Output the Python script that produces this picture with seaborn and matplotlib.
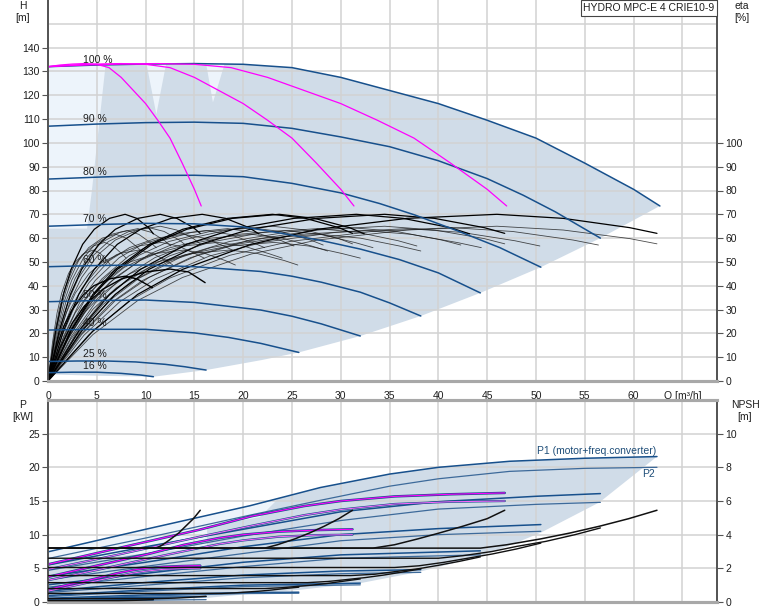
import numpy as np
import matplotlib
matplotlib.use("Agg")
import matplotlib.pyplot as plt
import seaborn as sns
from matplotlib.patches import Rectangle

sns.set_theme(style="white")
plt.rcParams['font.family'] = ['Liberation Sans', 'DejaVu Sans']

# ---------------- data: head curves (4 pumps, speed %) ----------------
H100_Q = [0, 5, 10, 15, 20, 25, 30, 35, 40, 45, 50, 55, 60, 62.7]
H100_H = [132.0, 132.7, 133.1, 133.3, 133.0, 131.6, 127.5, 122.0, 116.5, 109.5, 102.0, 91.5, 80.5, 73.5]
H90_Q = [0, 5, 10, 15, 20, 25, 30, 35, 40, 45, 48.7, 52, 56.6]
H90_H = [107.0, 107.9, 108.5, 108.7, 108.2, 106.1, 102.5, 98.4, 92.5, 85.0, 78.0, 71.0, 60.0]
H80_Q = [0, 5, 10, 15, 20, 25, 30, 34, 37.6, 42, 46.3, 50.5]
H80_H = [84.8, 85.6, 86.3, 86.4, 85.8, 83.0, 79.0, 74.5, 69.7, 63.0, 56.0, 47.8]
H70_Q = [0, 5, 10, 15, 20, 24, 28, 32, 36, 40, 44.3]
H70_H = [65.0, 65.7, 66.2, 66.0, 64.7, 62.0, 59.0, 55.4, 51.0, 45.4, 37.0]
H60_Q = [0, 5, 10, 15, 21.8, 25, 28, 32, 35, 38.2]
H60_H = [48.0, 48.5, 48.7, 48.0, 46.0, 44.0, 41.5, 37.3, 32.8, 27.3]
H50_Q = [0, 5, 10, 15, 21.8, 25, 28, 32]
H50_H = [33.3, 33.8, 34.0, 33.0, 29.8, 27.2, 24.0, 18.9]
H40_Q = [0, 5, 10, 15, 18.5, 21.8, 25.7]
H40_H = [21.4, 21.7, 21.7, 20.2, 18.3, 15.8, 12.0]
H25_Q = [0, 3, 6, 9, 12, 14, 16.2]
H25_H = [8.2, 8.4, 8.4, 8.0, 7.0, 6.0, 4.6]
H16_Q = [0, 2.5, 5, 7.5, 9.5, 10.8]
H16_H = [3.5, 3.7, 3.7, 3.2, 2.5, 1.8]
SPEED_LABELS = ['100 %', '90 %', '80 %', '70 %', '60 %', '50 %', '40 %', '25 %', '16 %']

# magenta: 1, 2, 3 pumps at full speed
MAG_H = [132.0, 132.7, 133.1, 133.3, 133.0, 131.6, 127.5, 122.0, 116.5, 109.5, 102.0, 91.5, 80.5, 73.5]
MAG1_Q = [0, 1.25, 2.5, 3.75, 5, 6.25, 7.5, 8.75, 10, 11.25, 12.5, 13.75, 15, 15.7]
MAG2_Q = [0, 2.5, 5, 7.5, 10, 12.5, 15, 17.5, 20, 22.5, 25, 27.5, 30, 31.35]
MAG3_Q = [0, 3.75, 7.5, 11.25, 15, 18.75, 22.5, 26.25, 30, 33.75, 37.5, 41.25, 45, 47.0]

# operating area (top)
ENV_LOW_Q = [62.7, 56.6, 50.5, 44.3, 38.2, 32.0, 25.7, 21.9, 16.2, 10.8, 5.0, 0]
ENV_LOW_H = [73.5, 60.0, 47.8, 37.0, 27.3, 18.9, 12.0, 8.8, 4.6, 1.8, 2.2, 2.8]
LIGHT1_Q = [0, 5.9, 4.5, 4.0, 0]
LIGHT1_H = [131.7, 132.7, 80, 64, 64]
LIGHT2_Q = [10.1, 12.1, 11.1]
LIGHT2_H = [133.1, 133.1, 112]
LIGHT3_Q = [16.2, 18.1, 16.9]
LIGHT3_H = [133.3, 133.2, 117]

# efficiency curves, per pump (flow of one pump); drawn for 1..4 running pumps
PUMP_COUNTS = [1, 2, 3, 4]
ETA_T100_Q = [0, 1.15, 2.3, 3.45, 5.2, 6.9, 9.2, 11.5, 13.2, 14.9, 15.6]
ETA_T100 = [0, 19.5, 33.8, 43.5, 53.3, 59.2, 63.4, 65.0, 63.4, 59.8, 57.6]
ETA_T90_Q = [0, 1.04, 2.07, 3.1, 4.66, 6.2, 8.3, 10.35, 11.9, 13.45, 14.1]
ETA_T90 = [0, 19.3, 33.5, 43.1, 52.8, 58.6, 62.8, 64.4, 62.8, 59.2, 57.1]
ETA_T80_Q = [0, 0.92, 1.84, 2.76, 4.14, 5.5, 7.36, 9.2, 10.6, 11.96, 12.6]
ETA_T80 = [0, 19.2, 33.3, 42.9, 52.5, 58.2, 62.4, 64.0, 62.4, 58.9, 56.7]
ETA_T70_Q = [0, 0.81, 1.62, 2.43, 3.65, 4.86, 6.5, 8.1, 9.3, 10.5, 11.1]
ETA_T70 = [0, 19.0, 32.9, 42.3, 51.8, 57.5, 61.6, 63.2, 61.6, 58.1, 56.0]
ETA_T60_Q = [0, 0.7, 1.4, 2.1, 3.13, 4.17, 5.56, 6.95, 8.0, 9.0, 9.55]
ETA_T60 = [0, 18.5, 32.0, 41.3, 50.5, 56.0, 60.0, 61.6, 60.0, 56.7, 54.6]
ETA_T50_Q = [0, 0.58, 1.16, 1.74, 2.6, 3.5, 4.64, 5.8, 6.67, 7.54, 8.0]
ETA_T50 = [0, 17.5, 30.3, 39.0, 47.7, 53.0, 56.7, 58.2, 56.7, 53.5, 51.6]
ETA_T40_Q = [0, 0.47, 0.93, 1.4, 2.1, 2.8, 3.72, 4.65, 5.35, 6.05, 6.4]
ETA_T40 = [0, 16.5, 28.6, 36.9, 45.1, 50.0, 53.6, 55.0, 53.6, 50.6, 48.7]
ETA_P100_Q = [0, 1.15, 2.3, 3.45, 5.2, 6.9, 9.2, 11.5, 13.2, 14.9, 15.6]
ETA_P100 = [0, 21.0, 36.4, 46.9, 57.4, 63.7, 68.3, 70.0, 68.3, 64.4, 62.0]
ETA_P70_Q = [0, 0.79, 1.58, 2.37, 3.55, 4.74, 6.3, 7.9, 9.1, 10.3, 10.8]
ETA_P70 = [0, 21.0, 36.4, 46.9, 57.4, 63.7, 68.3, 70.0, 68.3, 64.4, 61.8]
ETA_X1_Q = [0, 0.8, 1.6, 2.4, 3.6, 4.7, 6.3, 7.9, 9.1, 10.7]
ETA_X1 = [0, 13.2, 22.9, 29.5, 36.1, 40.0, 42.9, 44.0, 42.9, 39.2]
ETA_X2_Q = [0, 1.25, 2.5, 3.75, 5.6, 7.5, 10.0, 12.5, 14.4, 16.1]
ETA_X2 = [0, 14.1, 24.4, 31.5, 38.5, 42.8, 45.8, 47.0, 45.8, 41.3]

# ---------------- data: power (kW), 4 pumps at each speed ----------------
P100_Q = [0, 10, 20.7, 27.9, 35, 40, 47.3, 55, 62.4]
P1_100 = [7.45, 10.8, 14.3, 17.0, 19.0, 20.0, 20.9, 21.35, 21.6]
P2_100 = [6.45, 9.5, 12.9, 15.1, 17.2, 18.3, 19.4, 19.85, 20.0]
P90_Q = [0, 10, 20, 30, 40, 50, 56.6]
P1_90 = [5.5, 8.2, 10.8, 13.4, 14.9, 15.7, 16.1]
P2_90 = [4.7, 7.15, 9.8, 12.1, 13.8, 14.5, 14.8]
P80_Q = [0, 10, 20, 30, 40, 50.5]
P1_80 = [3.8, 5.9, 8.2, 10.0, 10.9, 11.5]
P2_80 = [3.3, 5.3, 7.2, 9.1, 10.0, 10.5]
P70_Q = [0, 10, 20, 30, 44.3]
P1_70 = [2.55, 4.25, 5.9, 7.0, 7.6]
P2_70 = [2.2, 3.8, 5.25, 6.5, 7.0]
P60_Q = [0, 10, 20, 30, 38.2]
P1_60 = [1.6, 2.9, 4.0, 4.6, 4.8]
P2_60 = [1.4, 2.5, 3.6, 4.2, 4.4]
P50_Q = [0, 10, 20, 32]
P1_50 = [0.95, 1.8, 2.5, 2.8]
P2_50 = [0.8, 1.6, 2.3, 2.55]
P40_Q = [0, 10, 20, 25.7]
P1_40 = [0.55, 1.05, 1.4, 1.45]
P2_40 = [0.42, 0.9, 1.25, 1.3]
P25_Q = [0, 8, 16.2]
P1_25 = [0.45, 0.65, 0.8]
P2_25 = [0.15, 0.25, 0.35]
P16_Q = [0, 5, 10.8]
P1_16 = [0.25, 0.3, 0.35]
P2_16 = [0.05, 0.08, 0.1]

# power of 1, 2, 3 pumps at full speed (magenta)
PM1_Q = [0, 2.5, 5.2, 7.0, 8.75, 10, 11.8, 13.75, 15.6]
PM1_P1 = [1.86, 2.7, 3.58, 4.25, 4.75, 5.0, 5.23, 5.34, 5.4]
PM1_P2 = [1.61, 2.38, 3.23, 3.78, 4.3, 4.58, 4.85, 4.96, 5.0]
PM2_Q = [0, 5, 10.35, 13.95, 17.5, 20, 23.65, 27.5, 31.2]
PM2_P1 = [3.73, 5.4, 7.15, 8.5, 9.5, 10.0, 10.45, 10.68, 10.8]
PM2_P2 = [3.23, 4.75, 6.45, 7.55, 8.6, 9.15, 9.7, 9.93, 10.0]
PM3_Q = [0, 7.5, 15.5, 20.9, 26.25, 30, 35.5, 41.25, 46.8]
PM3_P1 = [5.59, 8.1, 10.73, 12.75, 14.25, 15.0, 15.68, 16.0, 16.2]
PM3_P2 = [4.84, 7.13, 9.68, 11.33, 12.9, 13.73, 14.55, 14.89, 15.0]

# power area
PF_LOW_Q = [62.4, 56.5, 50.5, 47.3, 44.3, 38.1, 32.0, 25.7, 20.7, 16.2, 10.8, 0]
PF_LOW_P = [21.6, 14.8, 10.3, 8.4, 6.8, 4.5, 2.8, 1.8, 1.2, 0.6, 0.3, 0.2]
PL_Q = [0, 10, 20.7, 23.5, 21.7, 16.3, 16.3, 0]
PL_P = [7.45, 10.8, 14.3, 15.2, 12.6, 11.2, 8.1, 5.8]

# ---------------- data: NPSH (m) ----------------
NPSH_FULL = [3.2, 3.2, 3.4, 3.75, 4.1, 4.5, 4.95, 5.45]
NF1_Q = [0, 11.1, 11.75, 12.6, 13.4, 14.1, 14.9, 15.6]
NF2_Q = [0, 22.2, 23.5, 25.3, 26.8, 28.3, 29.8, 31.2]
NF3_Q = [0, 33.3, 35.5, 37.9, 40.1, 42.5, 45.0, 46.8]
NF4_Q = [0, 44.3, 47.0, 50.5, 53.5, 56.5, 59.5, 62.4]
N90_Q = [0, 40, 42.5, 45.5, 48, 51, 54, 56.6]
N90 = [2.6, 2.6, 2.75, 3.0, 3.3, 3.6, 4.0, 4.4]
N80_Q = [0, 35.5, 38, 40.5, 43, 45.5, 48, 50.5]
N80 = [2.05, 2.05, 2.15, 2.35, 2.6, 2.85, 3.15, 3.5]
N70_Q = [0, 31, 33.5, 35.5, 38, 40, 42.2, 44.3]
N70 = [1.57, 1.57, 1.65, 1.8, 1.98, 2.18, 2.42, 2.68]
N60_Q = [0, 26.6, 28.7, 30.4, 32.5, 34.4, 36.2, 38.2]
N60 = [1.15, 1.15, 1.22, 1.32, 1.45, 1.6, 1.77, 1.97]
N50_Q = [0, 22.2, 24, 25.4, 27, 28.6, 30.2, 32]
N50 = [0.8, 0.8, 0.85, 0.92, 1.0, 1.1, 1.23, 1.37]
N40_Q = [0, 17.8, 19.1, 20.3, 21.6, 22.9, 24.1, 25.7]
N40 = [0.51, 0.51, 0.54, 0.59, 0.64, 0.71, 0.79, 0.88]
N25_Q = [0, 11.1, 13, 14.6, 16.2]
N25 = [0.2, 0.2, 0.23, 0.28, 0.34]
N16_Q = [0, 7.2, 9, 10.8]
N16 = [0.08, 0.08, 0.1, 0.14]

X_TICKS = [0, 5, 10, 15, 20, 25, 30, 35, 40, 45, 50, 55, 60, 65]
X_LABELS = ['0', '5', '10', '15', '20', '25', '30', '35', '40', '45', '50', '55', '60', 'Q [m³/h]']

# ---------------- styling ----------------
NAVY = '#17508c'
MAG = '#ff00ff'
DARKFILL = '#d0dce8'
LIGHTFILL = '#edf4fb'
GRID = '#d2d2d2'
SPINE_D = '#555555'
SPINE_L = '#a8a8a8'
TXT = '#1e1e1e'
FS = 7.5


def line(ax, x, y, color, lw, z=3, alpha=1.0):
    sns.lineplot(x=list(x), y=list(y), ax=ax, color=color, lw=lw, estimator=None,
                 sort=False, zorder=z, alpha=alpha, legend=False)


W, HF = 774, 611
fig = plt.figure(figsize=(W / 100, HF / 100), dpi=100)
ax1 = fig.add_axes([48 / W, (HF - 381) / HF, 669 / W, 381 / HF])
ax2 = fig.add_axes([48 / W, 9 / HF, 669 / W, 202 / HF])
XMAX = 68.55

# ---------- top: areas ----------
ax1.fill(H100_Q + ENV_LOW_Q, H100_H + ENV_LOW_H, color=DARKFILL, lw=0, zorder=0.2)
for qq, hh in [(LIGHT1_Q, LIGHT1_H), (LIGHT2_Q, LIGHT2_H), (LIGHT3_Q, LIGHT3_H)]:
    ax1.fill(qq, hh, color=LIGHTFILL, lw=0, zorder=0.3)

# efficiency curves
total_sets = [(ETA_T40_Q, ETA_T40), (ETA_T50_Q, ETA_T50), (ETA_T60_Q, ETA_T60),
              (ETA_T70_Q, ETA_T70), (ETA_T80_Q, ETA_T80), (ETA_T90_Q, ETA_T90),
              (ETA_T100_Q, ETA_T100)]
for n in PUMP_COUNTS:
    for qq, ee in total_sets:
        line(ax1, [v * n for v in qq], ee, '#1a1a1a', 0.6, z=2.6, alpha=0.78)
    for qq, ee in [(ETA_P70_Q, ETA_P70), (ETA_P100_Q, ETA_P100)]:
        line(ax1, [v * n for v in qq], ee, '#000000', 0.9, z=2.7)
line(ax1, ETA_X1_Q, ETA_X1, '#000000', 1.0, z=2.7)
line(ax1, ETA_X2_Q, ETA_X2, '#000000', 1.0, z=2.7)

# speed curves
speed_sets = [(H100_Q, H100_H), (H90_Q, H90_H), (H80_Q, H80_H), (H70_Q, H70_H),
              (H60_Q, H60_H), (H50_Q, H50_H), (H40_Q, H40_H), (H25_Q, H25_H),
              (H16_Q, H16_H)]
for (qq, hh), lab in zip(speed_sets, SPEED_LABELS):
    line(ax1, qq, hh, NAVY, 1.1, z=3)
    ax1.text(3.6, hh[0] + 0.9, lab, fontsize=FS, color=TXT, ha='left', va='bottom', zorder=6)

for qq in [MAG1_Q, MAG2_Q, MAG3_Q]:
    line(ax1, qq, MAG_H, MAG, 0.9, z=4)

# ---------- bottom: areas ----------
ax2.fill(P100_Q + PF_LOW_Q, P1_100 + PF_LOW_P, color=DARKFILL, lw=0, zorder=0.2)
ax2.fill(PL_Q, PL_P, color=LIGHTFILL, lw=0, zorder=0.3)

p_sets = [(P100_Q, P1_100, P2_100), (P90_Q, P1_90, P2_90), (P80_Q, P1_80, P2_80),
          (P70_Q, P1_70, P2_70), (P60_Q, P1_60, P2_60), (P50_Q, P1_50, P2_50),
          (P40_Q, P1_40, P2_40), (P25_Q, P1_25, P2_25), (P16_Q, P1_16, P2_16)]
for qq, p1, p2 in p_sets:
    line(ax2, qq, p1, NAVY, 1.1, z=3)
    line(ax2, qq, p2, '#3d6a9a', 0.9, z=3)

for qq, p1, p2 in [(PM1_Q, PM1_P1, PM1_P2), (PM2_Q, PM2_P1, PM2_P2), (PM3_Q, PM3_P1, PM3_P2)]:
    line(ax2, qq, p1, NAVY, 1.8, z=3.2)
    line(ax2, qq, p1, MAG, 0.8, z=3.3)
    line(ax2, qq, p2, NAVY, 1.6, z=3.2)
    line(ax2, qq, p2, '#ff66ff', 0.7, z=3.3)

ax2r = ax2.twinx()
for qq in [NF1_Q, NF2_Q, NF3_Q, NF4_Q]:
    line(ax2r, qq, NPSH_FULL, '#111111', 1.1, z=3)
for qq, nn in [(N90_Q, N90), (N80_Q, N80), (N70_Q, N70), (N60_Q, N60), (N50_Q, N50),
               (N40_Q, N40), (N25_Q, N25), (N16_Q, N16)]:
    line(ax2r, qq, nn, '#111111', 1.0, z=3)

ax2.text(50.1, 22.5, 'P1 (motor+freq.converter)', fontsize=FS, color='#1f4e79', ha='left', va='center')
ax2.text(60.9, 19.0, 'P2', fontsize=FS, color='#1f4e79', ha='left', va='center')

# ---------- axes formatting ----------
ax1r = ax1.twinx()
for ax in (ax1, ax1r):
    ax.set_ylim(0, 160)
for ax in (ax2, ax2r):
    ax.set_xlim(0, XMAX)
ax1.set_xlim(0, XMAX)
ax1r.set_xlim(0, XMAX)
ax2.set_ylim(0, 30)
ax2r.set_ylim(0, 12)

ax1.set_xticks(X_TICKS)
ax1.set_xticklabels(X_LABELS)
ax1.set_yticks(list(range(0, 141, 10)))
ax1.set_yticks([150], minor=True)
ax1r.set_yticks(list(range(0, 101, 10)))
ax2.set_xticks(X_TICKS)
ax2.set_xticklabels([])
ax2.set_yticks(list(range(0, 26, 5)))
ax2r.set_yticks(list(range(0, 11, 2)))

for ax in (ax1, ax2):
    ax.set_axisbelow(True)
    ax.grid(True, which='both', color=GRID, lw=1.1)
    ax.set_xlabel('')
    ax.set_ylabel('')
for ax in (ax1r, ax2r):
    ax.grid(False)
    ax.set_xlabel('')
    ax.set_ylabel('')
    ax.patch.set_visible(False)

for ax in (ax1, ax1r, ax2, ax2r):
    ax.tick_params(axis='both', labelsize=FS, colors=TXT, length=4, width=0.8, pad=2)
    ax.tick_params(axis='both', color=SPINE_D)
    ax.tick_params(which='minor', length=0)
ax1.tick_params(axis='x', length=4, pad=3)
ax2.tick_params(axis='x', length=0)
ax1.tick_params(axis='y', left=True)
ax2.tick_params(axis='y', left=True)
ax1r.tick_params(axis='y', right=True)
ax2r.tick_params(axis='y', right=True)

for ax in (ax1, ax1r):
    ax.spines['top'].set_visible(False)
    ax.spines['bottom'].set_color(SPINE_L)
    ax.spines['bottom'].set_linewidth(2.2)
    ax.spines['left'].set_color(SPINE_D)
    ax.spines['left'].set_linewidth(1.3)
    ax.spines['right'].set_color(SPINE_D)
    ax.spines['right'].set_linewidth(1.3)
for ax in (ax2, ax2r):
    for s in ('top', 'bottom'):
        ax.spines[s].set_color(SPINE_L)
        ax.spines[s].set_linewidth(2.2)
    ax.spines['left'].set_color(SPINE_D)
    ax.spines['left'].set_linewidth(1.3)
    ax.spines['right'].set_color(SPINE_D)
    ax.spines['right'].set_linewidth(1.3)

# axis titles
fig.text(23 / W, 1 - 6 / HF, 'H', fontsize=FS, color=TXT, ha='center', va='center')
fig.text(23 / W, 1 - 18 / HF, '[m]', fontsize=FS, color=TXT, ha='center', va='center')
fig.text(742 / W, 1 - 6 / HF, 'eta', fontsize=FS, color=TXT, ha='center', va='center')
fig.text(742 / W, 1 - 18 / HF, '[%]', fontsize=FS, color=TXT, ha='center', va='center')
fig.text(23 / W, 1 - 405 / HF, 'P', fontsize=FS, color=TXT, ha='center', va='center')
fig.text(23 / W, 1 - 417 / HF, '[kW]', fontsize=FS, color=TXT, ha='center', va='center')
fig.text(745 / W, 1 - 405 / HF, 'NPSH', fontsize=FS, color=TXT, ha='center', va='center')
fig.text(745 / W, 1 - 417 / HF, '[m]', fontsize=FS, color=TXT, ha='center', va='center')

# title box
fig.add_artist(Rectangle((581 / W, 1 - 16 / HF), 136 / W, 16 / HF, transform=fig.transFigure,
                         facecolor='white', edgecolor='#444444', lw=0.8, zorder=10))
fig.text(649 / W, 1 - 8 / HF, 'HYDRO MPC-E 4 CRIE10-9', fontsize=FS, color=TXT,
         ha='center', va='center', zorder=11)

fig.savefig('out.png', dpi=100)
